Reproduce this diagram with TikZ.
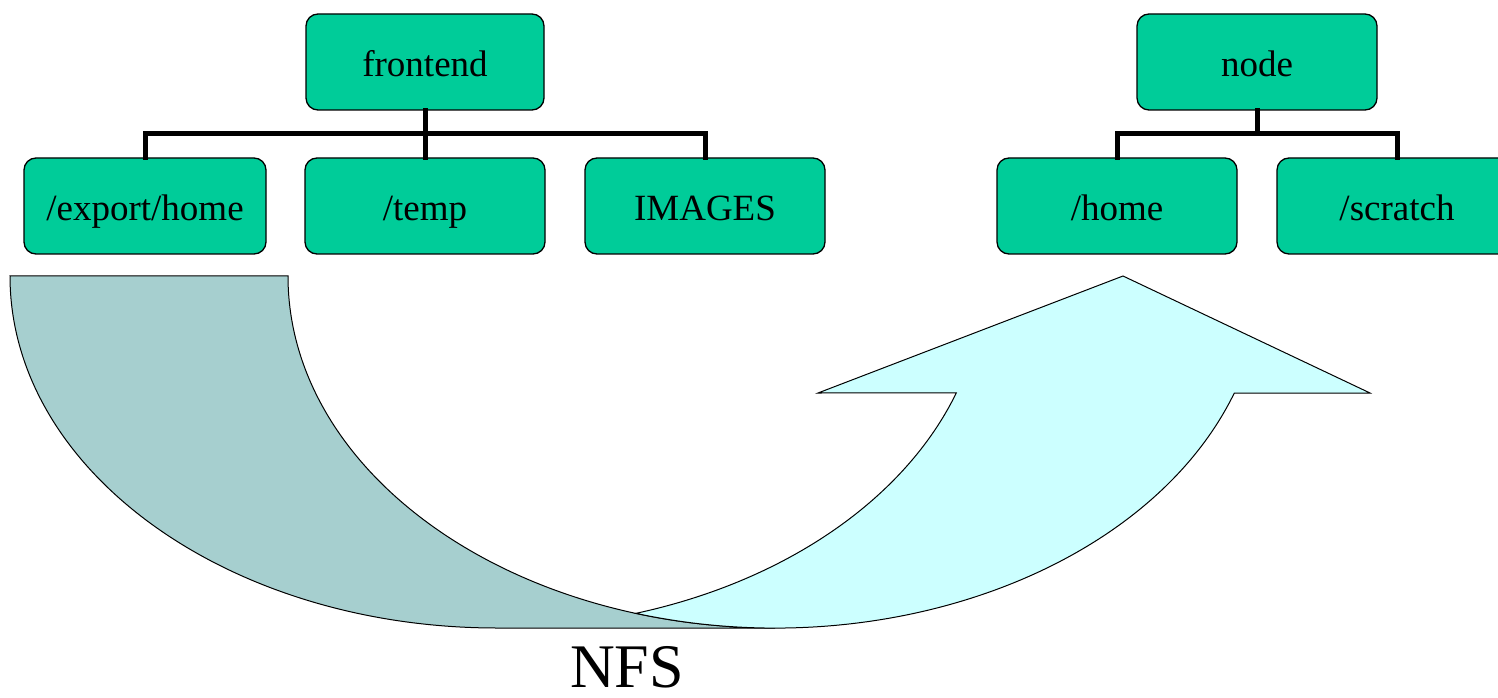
\documentclass[tikz,border=0pt]{standalone}
\usepackage{fontspec}
\setmainfont{Liberation Serif}
\definecolor{boxgreen}{RGB}{0,204,153}
\definecolor{tailgray}{RGB}{166,207,207}
\definecolor{arrowcyan}{RGB}{204,255,255}
\tikzset{
  dirbox/.style={draw=black, line width=1.3pt, fill=boxgreen, rounded corners=12pt,
    minimum width=240pt, minimum height=96pt, inner sep=0pt,
    text height=32pt, text depth=2pt,
    font=\fontsize{37}{40}\selectfont},
  treeline/.style={line width=5pt, line cap=rect},
  shapeline/.style={draw=black, line width=1pt, line join=miter}
}
\begin{document}
\begin{tikzpicture}[x=1pt,y=1pt]
\useasboundingbox (0,0) rectangle (1498,697);
\clip (0,0) rectangle (1498,697);
% tail (gray)
\filldraw[shapeline, fill=tailgray] (10,421) -- (288,421)
  arc[start angle=180, end angle=270, x radius=487pt, y radius=352pt]
  -- (497,69)
  arc[start angle=270, end angle=180, x radius=487pt, y radius=352pt] -- cycle;
% arrow (cyan)
\filldraw[shapeline, fill=arrowcyan] (636.1,83.7)
  arc[start angle=-73.4, end angle=-19.41, x radius=487pt, y radius=352pt]
  -- (818,304) -- (1123,421) -- (1370,304) -- (1234.3,304)
  arc[start angle=-19.41, end angle=-106.6, x radius=487pt, y radius=352pt] -- cycle;
% NFS label
\node[font=\fontsize{62}{66}\selectfont, inner sep=0pt, anchor=base] (nfs) at (627,10) {NFS};
% left tree
\node[dirbox, minimum width=238pt] (frontend) at (425,635) {frontend};
\node[dirbox, minimum width=242pt] (export) at (145,491) {/export/home};
\node[dirbox] (temp) at (425,491) {/temp};
\node[dirbox] (images) at (705,491) {IMAGES};
\draw[treeline] (frontend.south) -- ++(0,-23) coordinate (fb);
\draw[treeline] (export.north) |- (fb) -| (images.north);
\draw[treeline] (fb) -- (temp.north);
% right tree
\node[dirbox] (node) at (1257,635) {node};
\node[dirbox] (home) at (1117,491) {/home};
\node[dirbox] (scratch) at (1397,491) {/scratch};
\draw[treeline] (node.south) -- ++(0,-23) coordinate (nb);
\draw[treeline] (home.north) |- (nb) -| (scratch.north);
\end{tikzpicture}
\end{document}
